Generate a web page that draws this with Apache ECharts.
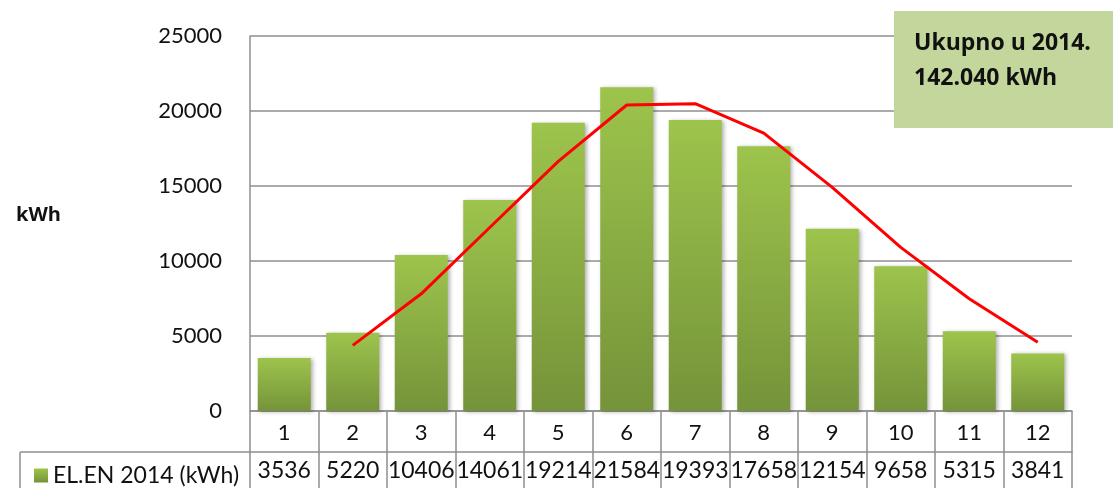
<!DOCTYPE html>
<html>
<head>
<meta charset="utf-8">
<script src="https://cdn.jsdelivr.net/npm/echarts@6/dist/echarts.min.js"></script>
<style>html,body{margin:0;padding:0;background:#fff}#c{width:1113px;height:488px}</style>
</head>
<body>
<div id="c"></div>
<script>
const categories = ['1','2','3','4','5','6','7','8','9','10','11','12'];
const energy = [3536, 5220, 10406, 14061, 19214, 21584, 19393, 17658, 12154, 9658, 5315, 3841];
const trend = [null, 4378, 7813, 12234, 16638, 20399, 20489, 18526, 14906, 10906, 7487, 4578];
const yTicks = [0, 5000, 10000, 15000, 20000, 25000];
const seriesName = 'EL.EN 2014 (kWh)';
const totalText = ['Ukupno u 2014.', '142.040 kWh'];

const FONT = 'Lato';
const GRAY = '#8f8f8f';
const chart = echarts.init(document.getElementById('c'));
const barColor = new echarts.graphic.LinearGradient(0, 0, 0, 1, [
  {offset: 0, color: '#9dc44c'},
  {offset: 1, color: '#75933a'}
]);
chart.setOption({
  animation: false,
  textStyle: {fontFamily: FONT},
  grid: {left: 250, right: 41, top: 36, bottom: 77},
  title: {text: 'kWh', left: 11, top: 200, textStyle: {fontFamily: 'Open Sans', fontWeight: 'bold', fontSize: 20, color: '#111'}},
  legend: {
    data: [{name: seriesName, icon: 'rect'}],
    left: 29, top: 459, itemWidth: 14, itemHeight: 14, itemGap: 7,
    textStyle: {fontFamily: FONT, fontSize: 23, color: '#111'}
  },
  xAxis: [
    {
      type: 'category', data: categories, position: 'bottom',
      axisLine: {show: true, lineStyle: {color: GRAY, width: 1.5}},
      axisTick: {show: true, alignWithLabel: false, interval: 0, length: 77, lineStyle: {color: GRAY, width: 1.5}},
      axisLabel: {fontSize: 22, color: '#111', margin: 11, fontFamily: FONT}
    },
    {
      type: 'category', data: energy.map(String), position: 'bottom', offset: 41,
      axisLine: {show: true, lineStyle: {color: GRAY, width: 1.5}},
      axisTick: {show: false},
      axisLabel: {fontSize: 23, color: '#111', margin: 7, fontFamily: FONT, interval: 0}
    }
  ],
  yAxis: {
    type: 'value', min: yTicks[0], max: yTicks[yTicks.length - 1], interval: 5000,
    axisLine: {show: true, lineStyle: {color: GRAY, width: 1.5}},
    axisTick: {show: false},
    axisLabel: {fontSize: 22, color: '#111', margin: 28, fontFamily: FONT, formatter: v => String(v)},
    splitLine: {show: true, lineStyle: {color: GRAY, width: 1.5}}
  },
  series: [
    {
      name: seriesName, type: 'bar', data: energy, barWidth: 53,
      itemStyle: {color: barColor, shadowBlur: 4, shadowColor: 'rgba(0,0,0,0.3)', shadowOffsetX: 2, shadowOffsetY: 1}
    },
    {
      name: 'trend', type: 'line', data: trend, symbol: 'none', connectNulls: false,
      lineStyle: {color: '#ff0000', width: 3}, z: 5
    }
  ],
  graphic: [
    {type: 'line', shape: {x1: 20, y1: 452, x2: 250, y2: 452}, style: {stroke: GRAY, lineWidth: 1.5}},
    {type: 'line', shape: {x1: 20, y1: 452, x2: 20, y2: 488}, style: {stroke: GRAY, lineWidth: 1.5}},
    {type: 'rect', shape: {x: 894, y: 11, width: 219, height: 117}, style: {fill: '#c3d69b'}, z: 10},
    {type: 'text', x: 914, y: 26, z: 11, style: {text: totalText.join('\n'), fontFamily: 'Open Sans', fontWeight: 'bold', fontSize: 23, lineHeight: 35, fill: '#111'}}
  ]
});
</script>
</body>
</html>
